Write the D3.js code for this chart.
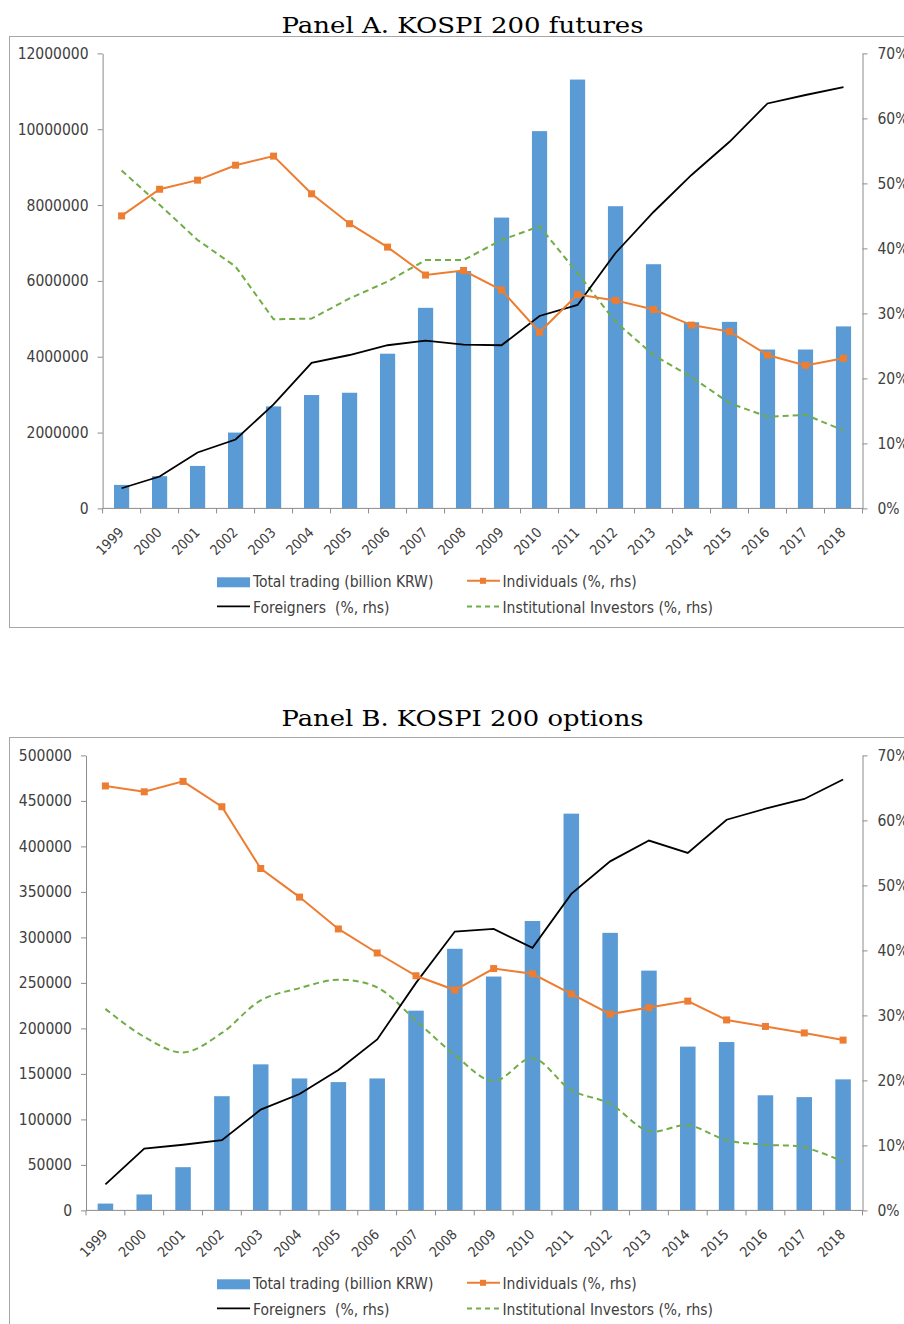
<!DOCTYPE html>
<html>
<head>
<meta charset="utf-8">
<script src="https://cdn.jsdelivr.net/npm/d3@7"></script>
<style>
  body { margin: 0; background: #fff; }
  svg text { font-family: "DejaVu Sans Condensed", "DejaVu Sans", sans-serif; fill: #404040; }
  .title { font-family: "DejaVu Serif", "Liberation Serif", serif; fill: #000; }
</style>
</head>
<body>
<svg width="904" height="1324"></svg>
<script>
const years = ["1999","2000","2001","2002","2003","2004","2005","2006","2007","2008",
               "2009","2010","2011","2012","2013","2014","2015","2016","2017","2018"];

// Panel A: KOSPI 200 futures
const futTotal = [620000, 850000, 1120000, 2000000, 2690000, 2990000, 3050000, 4080000, 5290000, 6260000,
                  7670000, 9950000, 11310000, 7970000, 6440000, 4910000, 4920000, 4190000, 4190000, 4800000];
const futIndiv = [45.0, 49.1, 50.5, 52.8, 54.2, 48.4, 43.8, 40.2, 35.9, 36.6,
                  33.6, 27.1, 32.9, 32.0, 30.6, 28.2, 27.2, 23.6, 22.0, 23.1];
const futForeign = [3.1, 4.9, 8.6, 10.6, 16.0, 22.4, 23.6, 25.1, 25.8, 25.2,
                    25.1, 29.6, 31.3, 39.3, 45.6, 51.3, 56.4, 62.3, 63.6, 64.8];
const futInst = [52.0, 46.7, 41.3, 37.2, 29.1, 29.2, 32.3, 34.9, 38.2, 38.2,
                 41.3, 43.4, 36.2, 28.7, 23.6, 20.2, 16.2, 14.1, 14.4, 12.0];
const futTicks = [0, 2000000, 4000000, 6000000, 8000000, 10000000, 12000000];

// Panel B: KOSPI 200 options
const optTotal = [7500, 17500, 47500, 125500, 160500, 145000, 141000, 145000, 219500, 287500,
                  257000, 318000, 436000, 305000, 263500, 180000, 185000, 126500, 124500, 144000];
const optIndiv = [65.3, 64.4, 66.0, 62.1, 52.6, 48.2, 43.3, 39.6, 36.1, 33.9,
                  37.2, 36.4, 33.3, 30.2, 31.2, 32.2, 29.3, 28.3, 27.3, 26.2];
const optForeign = [4.0, 9.5, 10.1, 10.8, 15.5, 17.9, 21.6, 26.3, 35.0, 42.9,
                    43.3, 40.4, 48.7, 53.7, 56.9, 55.0, 60.1, 61.8, 63.3, 66.3];
const optInst = [31.0, 26.7, 24.3, 27.3, 32.3, 34.2, 35.5, 34.3, 29.2, 23.9,
                 19.9, 23.4, 18.5, 16.4, 12.2, 13.1, 10.8, 10.1, 9.7, 7.5];
const optTicks = [0, 50000, 100000, 150000, 200000, 250000, 300000, 350000, 400000, 450000, 500000];

const pctTicks = [0, 10, 20, 30, 40, 50, 60, 70];
const legendLabels = ["Total trading (billion KRW)", "Individuals (%, rhs)",
                      "Foreigners  (%, rhs)", "Institutional Investors (%, rhs)"];

const svg = d3.select("svg");
const blue = "#5b9bd5", orange = "#ed7d31", green = "#70ad47", axisCol = "#8c8c8c";

function drawPanel(p) {
  const g = svg.append("g");

  // outer frame
  g.append("rect")
    .attr("x", 9.5).attr("y", p.frameTop + 0.5)
    .attr("width", 1000).attr("height", p.frameH)
    .attr("fill", "none").attr("stroke", "#a6a6a6");

  g.append("text").attr("class", "title")
    .attr("x", 462.5).attr("y", p.titleY)
    .attr("text-anchor", "middle")
    .attr("textLength", 362).attr("lengthAdjust", "spacingAndGlyphs")
    .style("font-size", "23px")
    .text(p.title);

  const x = d3.scaleBand().domain(years).range([p.left, 862.5]).paddingInner(0.6).paddingOuter(0.3);
  const yL = d3.scaleLinear().domain([0, p.leftMax]).range([p.base, p.base - 455]);
  const yR = d3.scaleLinear().domain([0, 70]).range([p.base, p.base - 455]);
  const cx = d => x(d) + x.bandwidth() / 2;

  // left axis
  const ax = g.append("g")
    .attr("transform", `translate(${p.left},0)`)
    .call(d3.axisLeft(yL).tickValues(p.ticks).tickSize(5).tickSizeOuter(0).tickPadding(9).tickFormat(d3.format("d")));
  // right axis
  const ar = g.append("g")
    .attr("transform", "translate(862.5,0)")
    .call(d3.axisRight(yR).tickValues(pctTicks).tickSize(5).tickSizeOuter(0).tickPadding(10).tickFormat(d => d + "%"));
  [ax, ar].forEach(a => {
    a.select(".domain").attr("stroke", axisCol);
    a.selectAll(".tick line").attr("stroke", axisCol);
    a.selectAll(".tick text").style("font-size", "15.5px").attr("fill", "#404040");
  });

  // bars
  g.append("g").selectAll("rect")
    .data(p.total)
    .join("rect")
    .attr("x", (d, i) => x(years[i]))
    .attr("y", d => yL(d))
    .attr("width", x.bandwidth())
    .attr("height", d => p.base - yL(d))
    .attr("fill", blue);

  // category axis
  g.append("line")
    .attr("x1", p.left).attr("x2", 862.5)
    .attr("y1", p.base).attr("y2", p.base)
    .attr("stroke", axisCol);
  const bounds = years.map(d => x(d) - x.step() * 0.3).concat([862.5]);
  g.append("g").selectAll("line")
    .data(bounds)
    .join("line")
    .attr("x1", d => d).attr("x2", d => d)
    .attr("y1", p.base).attr("y2", p.base + 5)
    .attr("stroke", axisCol);
  g.append("g").selectAll("text")
    .data(years)
    .join("text")
    .attr("text-anchor", "end")
    .attr("transform", d => `translate(${cx(d) + 3},${p.base + 25}) rotate(-45)`)
    .style("font-size", "14px")
    .text(d => d);

  // lines
  const line = d3.line().x((d, i) => cx(years[i])).y(d => yR(d));
  g.append("path")
    .datum(p.inst)
    .attr("d", line.curve(p.smoothInst ? d3.curveCatmullRom.alpha(0.5) : d3.curveLinear))
    .attr("fill", "none").attr("stroke", green)
    .attr("stroke-width", 2).attr("stroke-dasharray", "6,4");
  line.curve(d3.curveLinear);
  g.append("path")
    .datum(p.foreign)
    .attr("d", line)
    .attr("fill", "none").attr("stroke", "#000").attr("stroke-width", 1.8);
  g.append("path")
    .datum(p.indiv)
    .attr("d", line)
    .attr("fill", "none").attr("stroke", orange).attr("stroke-width", 2);
  g.append("g").selectAll("rect")
    .data(p.indiv)
    .join("rect")
    .attr("x", (d, i) => cx(years[i]) - 3.5)
    .attr("y", d => yR(d) - 3.5)
    .attr("width", 7).attr("height", 7)
    .attr("fill", orange);

  // legend
  const r1 = p.base + 78.4, r2 = p.base + 105;
  const lg = g.append("g");
  lg.append("rect").attr("x", 217).attr("y", r1 - 9.5).attr("width", 33).attr("height", 10).attr("fill", blue);
  lg.append("line").attr("x1", 467).attr("x2", 500).attr("y1", r1 - 6).attr("y2", r1 - 6)
    .attr("stroke", orange).attr("stroke-width", 2);
  lg.append("rect").attr("x", 480).attr("y", r1 - 9).attr("width", 6).attr("height", 6).attr("fill", orange);
  lg.append("line").attr("x1", 217).attr("x2", 250).attr("y1", r2 - 7).attr("y2", r2 - 7)
    .attr("stroke", "#000").attr("stroke-width", 1.8);
  lg.append("line").attr("x1", 467).attr("x2", 500).attr("y1", r2 - 7).attr("y2", r2 - 7)
    .attr("stroke", green).attr("stroke-width", 2).attr("stroke-dasharray", "5,4");
  const pos = [[253, r1], [502.5, r1], [253, r2], [502.5, r2]];
  lg.selectAll("text")
    .data(legendLabels)
    .join("text")
    .attr("x", (d, i) => pos[i][0])
    .attr("y", (d, i) => pos[i][1])
    .style("font-size", "15.5px")
    .style("white-space", "pre")
    .text(d => d);
}

drawPanel({
  title: "Panel A. KOSPI 200 futures", titleY: 33, frameTop: 36, frameH: 591,
  left: 102.6, base: 508.4, leftMax: 12000000, ticks: futTicks,
  total: futTotal, indiv: futIndiv, foreign: futForeign, inst: futInst, smoothInst: false
});

drawPanel({
  title: "Panel B. KOSPI 200 options", titleY: 726, frameTop: 737, frameH: 700,
  left: 86, base: 1210.4, leftMax: 500000, ticks: optTicks,
  total: optTotal, indiv: optIndiv, foreign: optForeign, inst: optInst, smoothInst: true
});
</script>
</body>
</html>
